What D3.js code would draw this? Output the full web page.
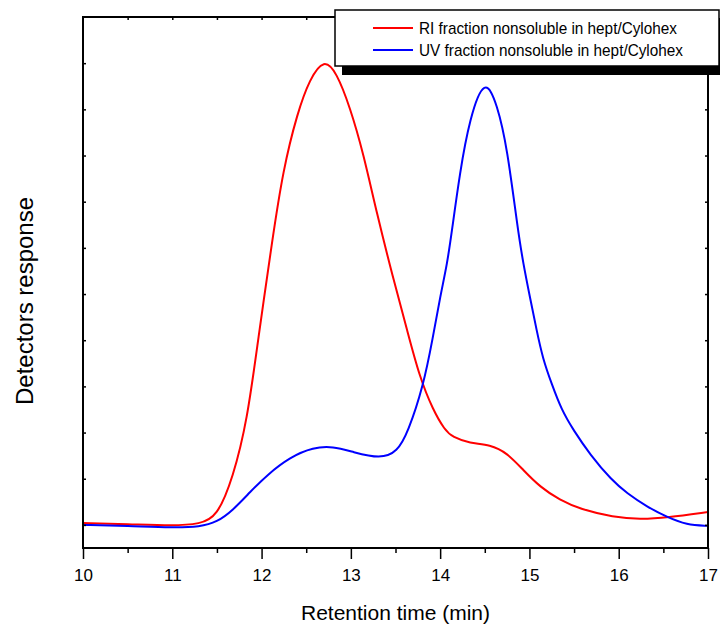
<!DOCTYPE html>
<html>
<head>
<meta charset="utf-8">
<script src="https://cdn.jsdelivr.net/npm/d3@7"></script>
<style>
  body { margin: 0; background: #fff; }
  text { font-family: "Liberation Sans", Arial, sans-serif; fill: #000; }
</style>
</head>
<body>
<svg id="chart" width="720" height="624"></svg>
<script>
// retention time (min) and detector response
const riTime = [10.0, 10.5, 11.01, 11.31, 11.5, 11.68, 11.84, 11.96, 12.12, 12.24, 12.4, 12.54, 12.7, 12.84, 12.99, 13.14, 13.29, 13.47, 13.63, 13.77, 13.92, 14.05, 14.14, 14.33, 14.56, 14.75, 14.93, 15.12, 15.34, 15.57, 15.94, 16.24, 16.54, 17.0]
const riValue = [0.04, 0.02, -0.02, 0.02, 0.17, 1.02, 2.27, 4.0, 6.17, 7.68, 8.92, 9.66, 10.1, 9.8, 9.05, 8.05, 6.75, 5.37, 4.22, 3.2, 2.49, 2.06, 1.9, 1.77, 1.74, 1.56, 1.19, 0.82, 0.54, 0.34, 0.17, 0.12, 0.16, 0.28]

const uvTime = [10.0, 10.5, 11.01, 11.31, 11.5, 11.68, 11.87, 12.06, 12.32, 12.58, 12.8, 13.02, 13.33, 13.52, 13.64, 13.81, 13.92, 14.0, 14.08, 14.13, 14.22, 14.33, 14.5, 14.64, 14.75, 14.87, 14.93, 15.01, 15.08, 15.15, 15.25, 15.36, 15.49, 15.68, 15.92, 16.09, 16.32, 16.54, 16.76, 17.0]
const uvValue = [0.0, -0.02, -0.06, -0.04, 0.06, 0.32, 0.71, 1.08, 1.47, 1.68, 1.7, 1.58, 1.43, 1.58, 2.01, 2.99, 4.07, 4.94, 5.67, 6.34, 7.62, 8.8, 9.72, 9.1, 8.18, 6.39, 5.67, 4.89, 4.22, 3.6, 3.05, 2.49, 2.06, 1.52, 0.97, 0.69, 0.39, 0.17, 0.0, -0.02]

const xTicks = [10, 11, 12, 13, 14, 15, 16, 17]
const legendLabels = ['RI fraction nonsoluble in hept/Cylohex', 'UV fraction nonsoluble in hept/Cylohex']
const colors = ['#ff0000', '#0000ff']

const margin = { top: 17, right: 12, bottom: 76, left: 83 }
const width = 720
const height = 624
const innerW = width - margin.left - margin.right
const innerH = height - margin.top - margin.bottom

const xScale = d3.scaleLinear().domain([10, 17]).range([0, innerW])
const yScale = d3.scaleLinear().domain([-0.5, 11]).range([innerH, 0])

const svg = d3.select('#chart')
const g = svg.append('g').attr('transform', `translate(${margin.left},${margin.top})`)

const line = d3.line()
  .x(d => xScale(d[0]))
  .y(d => yScale(d[1]))
  .curve(d3.curveBasis)

const series = [d3.zip(riTime, riValue), d3.zip(uvTime, uvValue)]

g.append('defs').append('clipPath').attr('id', 'clip')
  .append('rect').attr('width', innerW).attr('height', innerH)

const plot = g.append('g').attr('clip-path', 'url(#clip)')
series.forEach((s, i) => {
  plot.append('path')
    .attr('d', line(s))
    .style('fill', 'none')
    .style('stroke', colors[i])
    .style('stroke-width', 2)
})

// bottom axis: major ticks outward with labels, minor ticks at halves
const xAxis = d3.axisBottom(xScale).tickValues(xTicks).tickSize(11).tickPadding(10).tickFormat(d3.format('d'))
const xMinor = d3.axisBottom(xScale).tickValues(d3.range(10.5, 17, 1)).tickSize(5).tickFormat('')

const bottom = g.append('g').attr('transform', `translate(0,${innerH})`).call(xAxis)
bottom.selectAll('text').style('font-size', '17px')
g.append('g').attr('transform', `translate(0,${innerH})`).call(xMinor)

// inward ticks on the other sides
g.append('g').call(d3.axisTop(xScale).tickValues(d3.range(10.5, 17, 0.5)).tickSize(-3).tickFormat(''))
g.append('g').call(d3.axisLeft(yScale).tickValues(d3.range(0, 11)).tickSize(-3).tickFormat(''))
g.append('g').attr('transform', `translate(${innerW},0)`)
  .call(d3.axisRight(yScale).tickValues(d3.range(0, 11)).tickSize(-3).tickFormat(''))

g.selectAll('.domain').remove()
g.selectAll('.tick line').style('stroke', '#000').style('stroke-width', 1.5)

g.append('rect')
  .attr('width', innerW).attr('height', innerH)
  .style('fill', 'none').style('stroke', '#000').style('stroke-width', 2)

// axis titles
svg.append('text')
  .attr('x', margin.left + innerW / 2).attr('y', 620)
  .attr('text-anchor', 'middle')
  .style('font-size', '21px')
  .text('Retention time (min)')

svg.append('text')
  .attr('transform', 'translate(33,301) rotate(-90)')
  .attr('text-anchor', 'middle')
  .style('font-size', '24px')
  .text('Detectors response')

// legend with drop shadow
const legend = svg.append('g').attr('transform', 'translate(335,10)')
legend.append('rect').attr('x', 7).attr('y', 8).attr('width', 384).attr('height', 57).style('fill', '#000')
legend.append('rect').attr('width', 384).attr('height', 56)
  .style('fill', '#fff').style('stroke', '#000').style('stroke-width', 1.5)

legendLabels.forEach((label, i) => {
  const row = legend.append('g').attr('transform', `translate(0,${18 + i * 22})`)
  row.append('line').attr('x1', 38).attr('x2', 78)
    .style('stroke', colors[i]).style('stroke-width', 2)
  row.append('text').attr('x', 84).attr('y', 6)
    .style('font-size', '17px')
    .attr('textLength', i === 0 ? 258 : 264)
    .attr('lengthAdjust', 'spacingAndGlyphs')
    .text(label)
})
</script>
</body>
</html>
